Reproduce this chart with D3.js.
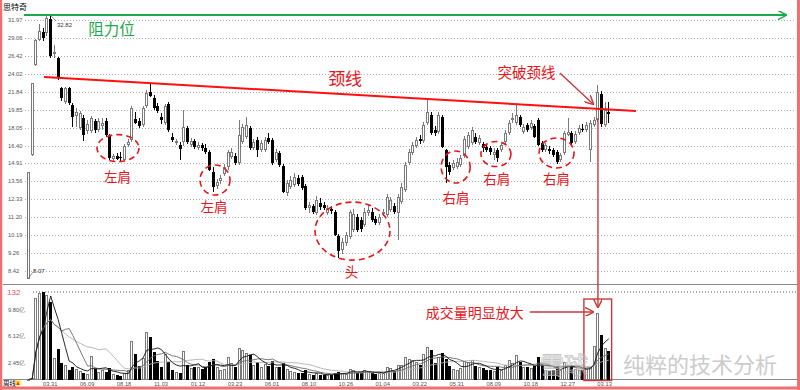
<!DOCTYPE html>
<html><head><meta charset="utf-8">
<script src="https://cdn.jsdelivr.net/npm/d3@7/dist/d3.min.js"></script>
<style>body{margin:0;background:#fff}svg{display:block}</style>
</head><body>
<svg id="c" width="800" height="390"></svg>
<script>
// ---------------- data ----------------
const opens  = [8.07,15.60,25.16,28.74,29.99,29.83,32.13,26.68,26.12,22.27,20.67,22.27,20.35,19.19,17.99,18.98,17.72,17.72,18.68,17.81,18.19,18.68,17.26,15.27,15.52,15.44,15.19,16.45,16.89,18.88,18.68,18.29,20.24,21.80,21.12,20.24,19.09,18.49,20.46,17.17,16.63,16.45,16.72,17.99,16.45,16.80,16.18,16.45,16.18,15.85,14.25,13.23,13.59,14.09,14.64,15.44,15.52,14.95,16.72,17.17,17.99,16.18,16.89,16.01,16.01,17.08,16.89,15.19,15.77,14.72,12.74,13.16,13.30,13.80,13.88,13.23,11.77,11.90,11.46,12.09,11.96,11.46,11.70,11.52,10.14,9.41,9.77,10.08,10.47,11.22,11.04,10.75,11.46,11.52,11.10,10.87,11.40,11.34,11.64,11.90,11.46,12.15,12.95,14.95,15.77,16.36,16.98,16.80,18.49,19.29,17.81,17.62,19.09,16.01,14.79,14.56,14.64,14.79,15.52,16.28,16.63,17.17,16.63,16.54,16.28,16.18,15.60,16.01,16.01,16.72,17.53,18.78,18.49,19.09,17.62,18.29,17.99,18.19,18.78,16.63,16.01,16.09,16.01,15.85,15.19,15.77,17.35,17.53,16.72,17.53,17.90,17.81,16.01,18.29,18.78,21.57,18.29,19.60];
const highs  = [14.25,22.87,28.89,31.30,30.63,32.65,32.82,27.98,26.26,22.39,22.39,22.39,20.57,20.02,19.71,19.29,18.78,19.19,18.88,18.98,18.98,18.98,17.44,15.68,15.77,15.85,16.54,16.98,20.24,19.60,18.98,20.24,22.03,22.75,21.46,20.57,19.50,20.46,20.67,17.53,16.98,16.72,19.81,18.19,17.08,16.98,16.72,16.63,16.54,16.01,14.64,13.73,14.02,14.87,16.01,16.18,15.77,18.78,18.39,19.09,18.19,16.98,17.17,16.89,17.17,17.53,17.08,16.09,15.93,14.87,13.66,13.95,14.17,14.02,14.02,13.37,12.15,12.02,12.54,12.41,12.15,11.96,11.90,11.64,10.25,10.04,10.36,11.64,11.70,11.40,11.22,11.77,11.96,11.77,11.28,11.40,11.70,12.68,12.48,12.09,12.68,13.44,15.03,16.09,16.72,17.17,17.35,18.58,20.89,19.60,18.19,19.60,19.29,16.09,15.03,15.19,15.36,15.60,17.26,17.62,18.10,17.53,17.35,16.72,16.45,16.36,16.18,16.18,16.63,17.81,18.78,19.50,20.57,19.29,18.39,18.49,18.78,18.39,18.98,16.80,16.63,16.36,16.18,16.01,15.77,17.72,18.98,17.72,17.72,18.29,18.39,18.58,18.78,19.09,22.63,21.91,20.67,20.67];
const lows   = [8.07,15.52,25.03,28.59,28.59,29.35,26.12,26.12,23.23,20.78,20.46,20.35,18.10,18.10,17.81,16.80,17.44,17.53,17.53,17.62,17.81,17.17,15.19,15.03,15.19,15.03,15.11,16.28,16.72,18.39,17.99,18.10,20.02,21.23,19.81,19.50,18.39,18.29,17.62,16.72,16.45,15.19,16.36,16.54,16.28,16.09,16.01,15.93,15.68,14.32,12.81,13.02,13.37,13.95,14.40,15.27,14.79,14.79,16.54,16.98,16.01,16.01,15.44,15.85,15.85,16.54,14.79,15.03,14.64,12.74,12.54,13.02,13.16,13.23,12.95,11.64,11.46,11.40,11.34,11.64,11.64,11.34,11.40,10.14,9.02,9.22,9.62,9.98,10.36,10.36,10.36,10.64,11.28,10.92,10.75,10.75,11.28,11.22,11.52,11.40,9.93,12.02,12.81,14.79,15.60,16.18,16.54,16.63,18.29,17.35,17.26,17.44,16.18,13.44,14.02,14.40,14.48,14.64,15.36,16.09,16.45,16.54,16.45,15.85,15.85,15.60,15.19,15.03,15.85,16.54,17.35,18.49,18.29,18.10,17.44,17.62,17.81,17.08,16.36,15.85,15.85,15.68,15.44,14.87,15.03,15.60,17.26,16.45,16.54,17.35,17.62,17.62,15.03,18.10,18.58,18.10,18.10,18.49];
const closes = [14.25,22.87,28.74,30.15,29.04,32.30,26.40,26.96,23.48,21.12,22.27,20.57,19.09,19.60,19.50,17.35,18.39,18.98,17.81,18.68,18.49,17.35,15.36,15.52,15.27,15.36,16.36,16.72,20.02,18.49,18.19,20.02,21.68,21.35,20.02,19.71,18.78,20.24,17.81,16.89,16.80,16.09,18.10,16.72,16.80,16.28,16.45,16.18,15.85,14.40,13.16,13.52,13.80,14.64,15.85,15.85,14.95,17.35,18.10,18.29,16.18,16.72,16.01,16.63,16.89,16.72,14.95,15.85,14.79,12.81,13.44,13.66,13.88,13.37,13.09,11.77,11.96,11.52,12.28,11.83,11.77,11.77,11.58,10.19,9.36,9.82,10.19,11.52,11.40,10.47,10.53,11.52,11.64,11.04,10.87,11.22,11.52,12.48,12.28,11.52,12.48,13.16,14.79,15.85,16.45,16.89,16.80,18.29,19.60,17.53,17.53,19.29,16.28,14.64,14.25,14.95,15.03,15.36,16.98,17.35,17.81,16.72,17.08,16.18,16.01,15.85,15.85,15.36,16.45,17.53,18.49,18.98,19.29,18.29,18.10,17.81,18.49,17.17,16.45,16.01,16.45,15.93,15.60,15.03,15.60,17.53,17.62,16.63,17.44,17.99,17.81,18.29,18.49,18.78,21.80,18.39,19.81,19.40];
const volumes = [0.15,0.3,11.4,12.05,12.27,11.8,10.9,3.07,4.3,2.46,2.14,1.45,1.82,1.55,1.35,1.0,0.9,3.4,1.55,1.2,1.45,1.2,1.7,0.85,0.75,0.65,1.0,1.45,5.46,3.66,2.0,3.07,6.75,5.97,3.98,2.74,1.82,3.66,2.6,1.45,1.2,1.0,4.1,2.14,1.77,1.82,1.82,1.6,1.9,2.5,3.0,1.8,1.4,1.6,3.2,2.4,1.8,4.5,4.2,3.8,3.5,2.2,2.6,1.9,2.3,2.0,2.7,1.8,1.9,2.4,1.6,1.3,1.2,1.0,1.1,1.5,0.9,0.8,1.0,0.8,0.7,0.8,0.7,1.1,1.2,1.0,0.9,1.6,1.4,1.1,1.0,1.5,1.2,1.0,0.9,1.1,1.0,1.9,1.7,1.3,2.1,2.2,3.3,3.0,2.8,2.6,2.2,3.6,4.6,4.2,2.4,3.2,3.8,3.0,2.0,1.6,1.5,1.7,2.7,2.5,2.9,2.0,1.8,1.7,1.5,1.4,1.3,1.8,1.4,2.2,2.8,2.4,3.5,2.6,1.9,1.8,1.7,2.0,3.2,2.1,1.5,1.3,1.4,2.0,1.4,2.6,2.0,1.9,1.6,1.5,1.4,1.6,1.9,4.7,9.3,6.3,4.45,4.08];
const priceTicks = [31.97,29.06,26.42,24.02,21.84,19.85,18.05,16.40,14.91,13.56,12.33,11.20,10.19,9.26,8.42];
const volTicks = [9.80,6.12,2.45];
const dateLabels = ["03.31","06.09","08.18","11.03","01.12","03.23","06.01","08.10","10.26","01.04","03.22","05.31","08.09","10.18","12.27","03.13"];
const dateIdx = [6,16,26,36,46,56,66,76,86,96,106,116,126,136,146,156];
const peakPrice = 32.82, lowPrice = 8.07;
// annotations in data space: [candle index, price]
const neckline = [[4.33,23.61],[164.5,19.71]];
const shoulders = [
  {c:[24.35,16.18],rx:21,ry:13.5,label:"左肩",l:[24.2,13.95]},
  {c:[50.6,13.66],rx:15,ry:15,label:"左肩",l:[50.3,11.87]},
  {c:[87.8,10.41],rx:37.5,ry:29,label:"头",l:[87.5,8.42]},
  {c:[115.7,14.64],rx:14.5,ry:16,label:"右肩",l:[115.8,12.48]},
  {c:[126.6,15.68],rx:15,ry:12.5,label:"右肩",l:[126.8,13.84]},
  {c:[143.0,15.77],rx:17.5,ry:15,label:"右肩",l:[143.0,13.84]}
];

// ---------------- scales ----------------
const svg = d3.select("#c");
const N = closes.length;
const x = d3.scaleLinear().domain([0, N-1]).range([28, 608.3]);
const y = d3.scaleLog().domain([8.42, 31.97]).range([271, 20]);
const yv = d3.scaleLinear().domain([0, 12.23]).range([380.5, 292]);
const CJK = "'Noto Sans CJK SC','Noto Sans',sans-serif";
const NUM = "'Liberation Sans','DejaVu Sans',sans-serif";
const RED = "#e8151b", DRED = "#c8383a", GREEN = "#1ea84c", UPC = "#7a7a7a";

const defs = svg.append("defs");
function marker(id, color){
  defs.append("marker").attr("id",id).attr("viewBox","0 0 10 10").attr("refX",9).attr("refY",5)
    .attr("markerWidth",9).attr("markerHeight",9).attr("markerUnits","userSpaceOnUse").attr("orient","auto")
    .append("path").attr("d","M0,0 L10,5 L0,10").attr("fill","none").attr("stroke",color).attr("stroke-width",1.6);
}
marker("ag", GREEN); marker("ar", DRED);

// title
svg.append("text").attr("x",3).attr("y",9.5).attr("font-size",8).attr("font-family",CJK).attr("fill","#000").text("思特奇");

// grid + price labels
const g = svg.append("g");
g.selectAll("line.grid").data(priceTicks).join("line")
  .attr("x1",25).attr("x2",795).attr("y1",d=>Math.round(y(d))+0.5).attr("y2",d=>Math.round(y(d))+0.5)
  .attr("stroke","#b4b4b4").attr("stroke-dasharray","1,2");
g.selectAll("text.pl").data(priceTicks).join("text")
  .attr("x",8).attr("y",d=>y(d)+2).attr("font-size",5.8).attr("font-family",NUM).attr("fill","#555")
  .text(d=>d.toFixed(2));

// panel lines
svg.append("line").attr("x1",3).attr("x2",797).attr("y1",284.5).attr("y2",284.5).attr("stroke","#8a8a8a");
svg.append("line").attr("x1",3).attr("x2",797).attr("y1",379.5).attr("y2",379.5).attr("stroke","#8a8a8a");
svg.append("line").attr("x1",33).attr("x2",797).attr("y1",yv(12.23)).attr("y2",yv(12.23)).attr("stroke","#555").attr("stroke-dasharray","1,2");
svg.append("text").attr("x",7).attr("y",294.5).attr("font-size",8).attr("font-family",NUM).attr("fill","#e05656").text("132");
svg.selectAll("text.vl").data(volTicks).join("text")
  .attr("x",8).attr("y",d=>yv(d)+2).attr("font-size",5.8).attr("font-family",NUM).attr("fill","#555")
  .text(d=>d.toFixed(2)+"亿");

// candles
const cg = svg.append("g").attr("shape-rendering","crispEdges");
for(let i=0;i<N;i++){
  const cx = Math.round(x(i));
  const O=opens[i],C=closes[i],Hh=highs[i],L=lows[i];
  const up = C>=O;
  const top = Math.round(y(Math.max(O,C))), bot = Math.round(y(Math.min(O,C)));
  const yH = Math.round(y(Hh)), yL = Math.round(y(L));
  if(up){
    if(yH<top) cg.append("line").attr("x1",cx+0.5).attr("x2",cx+0.5).attr("y1",yH).attr("y2",top).attr("stroke",UPC);
    if(yL>bot) cg.append("line").attr("x1",cx+0.5).attr("x2",cx+0.5).attr("y1",bot).attr("y2",yL).attr("stroke",UPC);
    cg.append("rect").attr("x",cx-0.5).attr("y",top+0.5).attr("width",2).attr("height",Math.max(bot-top-1,0.5))
      .attr("fill","#fff").attr("stroke",UPC);
  } else {
    cg.append("line").attr("x1",cx+0.5).attr("x2",cx+0.5).attr("y1",yH).attr("y2",yL).attr("stroke","#000");
    cg.append("rect").attr("x",cx-1).attr("y",top).attr("width",3).attr("height",Math.max(bot-top,1)).attr("fill","#000");
  }
  // volume
  const vt = Math.round(yv(volumes[i])), vb = 380;
  if(up){
    cg.append("rect").attr("x",cx-0.5).attr("y",vt+0.5).attr("width",2).attr("height",Math.max(vb-vt-1,0.5))
      .attr("fill","#fff").attr("stroke",UPC);
  } else {
    cg.append("rect").attr("x",cx-1).attr("y",vt).attr("width",3).attr("height",Math.max(vb-vt,1)).attr("fill","#000");
  }
}

// volume moving averages
function ma(n){ return volumes.map((v,i)=>d3.mean(volumes.slice(Math.max(0,i-n+1),i+1))); }
const vline = d3.line().x((d,i)=>x(i)+0.5).y(d=>yv(d));
[[20,"#b0b0b0"],[10,"#6a6a6a"],[5,"#111"]].forEach(([n,c])=>{
  svg.append("path").attr("d",vline(ma(n))).attr("fill","none").attr("stroke",c).attr("stroke-width",0.9);
});

// date labels
svg.selectAll("text.dl").data(dateLabels).join("text")
  .attr("x",(d,i)=>x(dateIdx[i])).attr("y",385.5).attr("text-anchor","middle")
  .attr("font-size",5.8).attr("font-family",NUM).attr("fill","#555").text(d=>d);
svg.append("text").attr("x",3).attr("y",386).attr("font-size",6.5).attr("font-family",CJK).attr("fill","#000").text("周线");
svg.append("rect").attr("x",15.5).attr("y",380.5).attr("width",5).attr("height",5).attr("fill","#ffd21a");
svg.append("path").attr("d","M16.5,385 L18,381.5 L19.5,385Z").attr("fill","#c33");

// peak / low labels
svg.append("line").attr("x1",x(6)).attr("y1",y(peakPrice)).attr("x2",x(7.6)).attr("y2",y(31.79)).attr("stroke","#666").attr("stroke-width",0.7);
svg.append("text").attr("x",x(7.85)).attr("y",y(30.80)).attr("font-size",6).attr("font-family",NUM).attr("fill","#333").text(peakPrice.toFixed(2));
svg.append("line").attr("x1",x(0)).attr("y1",y(lowPrice)).attr("x2",x(1.3)).attr("y2",y(8.37)).attr("stroke","#666").attr("stroke-width",0.7);
svg.append("text").attr("x",x(1.35)).attr("y",y(8.33)).attr("font-size",6).attr("font-family",NUM).attr("fill","#333").text(lowPrice.toFixed(2));

// resistance line
svg.append("line").attr("x1",x(-1.08)).attr("x2",x(205.1)).attr("y1",y(peakPrice)).attr("y2",y(peakPrice))
  .attr("stroke",GREEN).attr("stroke-width",2).attr("marker-end","url(#ag)");
svg.append("text").attr("x",x(22.6)).attr("y",y(30.72)).attr("text-anchor","middle").attr("dominant-baseline","central")
  .attr("font-size",15.5).attr("font-family",CJK).attr("fill",GREEN).text("阻力位");

// neckline
svg.append("line").attr("x1",x(neckline[0][0])).attr("y1",y(neckline[0][1])).attr("x2",x(neckline[1][0])).attr("y2",y(neckline[1][1]))
  .attr("stroke","#ff1010").attr("stroke-width",2);
svg.append("text").attr("x",x(85.8)).attr("y",y(23.61)).attr("text-anchor","middle").attr("dominant-baseline","central")
  .attr("font-size",17).attr("font-family",CJK).attr("fill",RED).text("颈线");
svg.append("text").attr("x",x(134.9)).attr("y",y(24.30)).attr("text-anchor","middle").attr("dominant-baseline","central")
  .attr("font-size",14.5).attr("font-family",CJK).attr("fill",RED).text("突破颈线");
svg.append("line").attr("x1",x(143.9)).attr("y1",y(24.11)).attr("x2",x(152.9)).attr("y2",y(20.46))
  .attr("stroke",DRED).attr("stroke-width",1.4).attr("marker-end","url(#ar)");

// shoulders & head
shoulders.forEach(s=>{
  svg.append("ellipse").attr("cx",x(s.c[0])).attr("cy",y(s.c[1])).attr("rx",s.rx).attr("ry",s.ry)
    .attr("fill","none").attr("stroke",RED).attr("stroke-width",1.6).attr("stroke-dasharray","6,4");
  svg.append("text").attr("x",x(s.l[0])).attr("y",y(s.l[1])).attr("text-anchor","middle").attr("dominant-baseline","central")
    .attr("font-size",13.5).attr("font-family",CJK).attr("fill",RED).text(s.label);
});

// breakout volume annotation
svg.append("line").attr("x1",x(154.2)).attr("y1",y(18.98)).attr("x2",x(154.2)).attr("y2",yv(10.16))
  .attr("stroke",DRED).attr("stroke-width",1.4).attr("marker-end","url(#ar)");
svg.append("rect").attr("x",x(150.4)).attr("y",yv(11.26)).attr("width",x(157.9)-x(150.4)).attr("height",yv(0)-yv(11.26))
  .attr("fill","none").attr("stroke",DRED).attr("stroke-width",1.4);
svg.append("line").attr("x1",x(135.8)).attr("y1",yv(9.47)).attr("x2",x(152.9)).attr("y2",yv(9.47))
  .attr("stroke",DRED).attr("stroke-width",1.4).attr("marker-end","url(#ar)");
svg.append("text").attr("x",x(120.9)).attr("y",yv(9.47)).attr("text-anchor","middle").attr("dominant-baseline","central")
  .attr("font-size",14).attr("font-family",CJK).attr("fill",RED).text("成交量明显放大");

// watermark
svg.append("text").attr("x",540).attr("y",374).attr("font-size",24).attr("font-family",CJK)
  .attr("fill","none").attr("stroke","#b8b8b8").attr("stroke-width",0.9).attr("opacity",0.8).text("雪球");
svg.append("text").attr("x",623).attr("y",373).attr("font-size",22).attr("font-family",CJK)
  .attr("fill","#c4c4c4").attr("opacity",0.85).text("纯粹的技术分析");

// frame
svg.append("line").attr("x1",1).attr("x2",1).attr("y1",0).attr("y2",390).attr("stroke","#f07070").attr("stroke-width",2.5);
svg.append("line").attr("x1",798.5).attr("x2",798.5).attr("y1",0).attr("y2",390).attr("stroke","#f07070").attr("stroke-width",3);
svg.append("line").attr("x1",0).attr("x2",800).attr("y1",388).attr("y2",388).attr("stroke","#f07070").attr("stroke-width",3);
</script>
</body></html>
